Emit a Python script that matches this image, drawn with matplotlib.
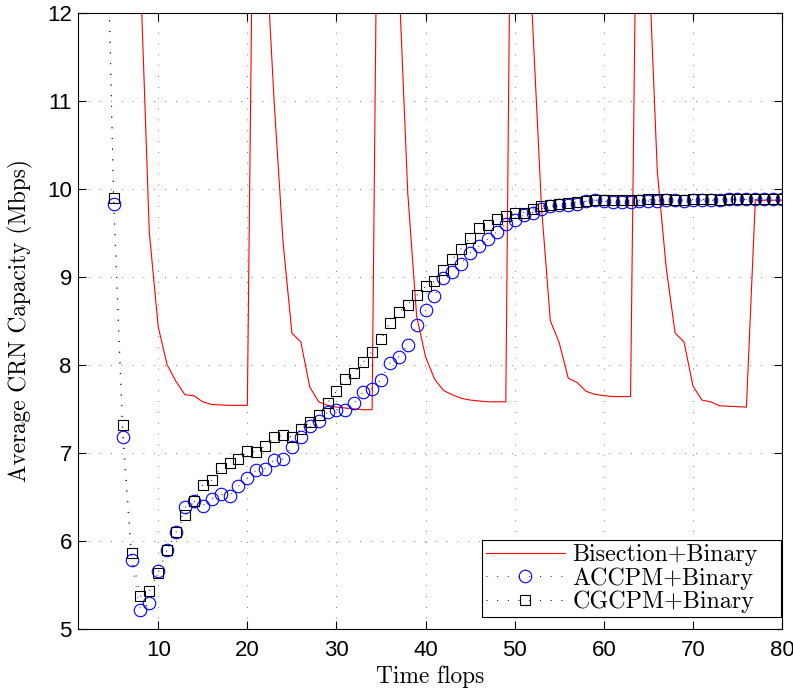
import matplotlib
matplotlib.use('Agg')
import matplotlib.pyplot as plt

# flops 1..80 ; valores por encima de 12 quedan fuera del eje (igual que el original)
flops = list(range(1, 81))

bisection = [40, 32, 27, 23, 20, 18, 16, 12.45, 9.5, 8.43,
             8.0, 7.81, 7.66, 7.65, 7.58, 7.55, 7.545, 7.54, 7.54, 7.54,
             17, 12.9, 11.0, 9.4, 8.36, 8.26, 7.75, 7.58, 7.54, 7.52,
             7.51, 7.5, 7.49, 7.49, 18, 14.5, 12.4, 9.95, 8.55, 8.09,
             7.84, 7.71, 7.66, 7.62, 7.6, 7.59, 7.58, 7.58, 7.58, 18.6,
             14.3, 11.9, 9.8, 8.5, 8.25, 7.85, 7.8, 7.7, 7.665, 7.65,
             7.64, 7.64, 7.64, 16.4, 12.7, 10.2, 9.1, 8.36, 8.26, 7.76,
             7.6, 7.58, 7.535, 7.53, 7.525, 7.52, 9.87, 9.87, 9.87, 9.87]

accpm = [26, 22, 18, 14.3, 9.83, 7.18, 5.78, 5.21, 5.29, 5.66,
         5.90, 6.10, 6.38, 6.45, 6.40, 6.48, 6.53, 6.51, 6.62, 6.71,
         6.80, 6.82, 6.92, 6.93, 7.07, 7.18, 7.30, 7.36, 7.46, 7.49,
         7.49, 7.57, 7.69, 7.73, 7.83, 8.02, 8.09, 8.23, 8.45, 8.62,
         8.78, 8.99, 9.05, 9.15, 9.27, 9.35, 9.43, 9.51, 9.60, 9.65,
         9.70, 9.73, 9.77, 9.80, 9.81, 9.82, 9.83, 9.86, 9.87, 9.86,
         9.85, 9.85, 9.85, 9.86, 9.86, 9.86, 9.87, 9.87, 9.86, 9.87,
         9.87, 9.87, 9.87, 9.88, 9.88, 9.88, 9.88, 9.88, 9.88, 9.88]

cgcpm = [26, 22, 18, 14.4, 9.89, 7.32, 5.86, 5.37, 5.43, 5.64,
         5.90, 6.10, 6.30, 6.45, 6.64, 6.69, 6.83, 6.88, 6.93, 7.02,
         7.01, 7.08, 7.18, 7.20, 7.18, 7.27, 7.35, 7.43, 7.57, 7.70,
         7.84, 7.91, 8.03, 8.15, 8.29, 8.48, 8.60, 8.68, 8.79, 8.89,
         8.95, 9.08, 9.20, 9.32, 9.44, 9.55, 9.59, 9.66, 9.69, 9.72,
         9.73, 9.77, 9.80, 9.82, 9.83, 9.84, 9.85, 9.86, 9.87, 9.87,
         9.87, 9.87, 9.87, 9.87, 9.88, 9.88, 9.88, 9.87, 9.87, 9.88,
         9.88, 9.88, 9.87, 9.88, 9.88, 9.88, 9.88, 9.88, 9.88, 9.88]

etiquetas = ['Bisection+Binary', 'ACCPM+Binary', 'CGCPM+Binary']
xticks = [10, 20, 30, 40, 50, 60, 70, 80]
yticks = [5, 6, 7, 8, 9, 10, 11, 12]

plt.rcParams['font.family'] = ['Liberation Sans', 'DejaVu Sans']

fig = plt.figure(figsize=(7.93, 6.93), dpi=100)
ax = fig.add_axes([0.0984, 0.0924, 0.8878, 0.8893])

ax.plot(flops, bisection, color='#ff0000', linewidth=0.8, label=etiquetas[0])
ax.plot(flops, accpm, color='#0000ff', linestyle=(0, (1, 10)), linewidth=0.7,
        marker='o', markersize=9, markerfacecolor='none', markeredgecolor='#0000ff',
        markeredgewidth=0.8, label=etiquetas[1])
ax.plot(flops, cgcpm, color='black', linestyle=(0, (1, 10)), linewidth=0.7,
        marker='s', markersize=7.8, markerfacecolor='none', markeredgecolor='black',
        markeredgewidth=0.8, label=etiquetas[2])

ax.set_xlim(1, 80)
ax.set_ylim(5, 12)
ax.set_xticks(xticks)
ax.set_yticks(yticks)
ax.grid(True, color='#555555', linestyle=(0, (1, 12)), linewidth=0.6)
ax.tick_params(direction='in', length=5.5, width=0.8, top=True, right=True,
               labelsize=16)
ax.tick_params(axis='x', pad=8)
ax.tick_params(axis='y', pad=4.5)
for s in ax.spines.values():
    s.set_linewidth(0.8)

ax.set_xlabel('Time flops', fontfamily='cmr10', fontsize=16.8, labelpad=3.5)
ax.set_ylabel('Average CRN Capacity (Mbps)', fontfamily='cmr10', fontsize=16.8)
ax.yaxis.set_label_coords(-0.064, 0.5)

leg = ax.legend(loc='lower left', bbox_to_anchor=(0.574, 0.0195, 0.4247, 0.1),
                mode='expand', borderaxespad=0,
                prop={'family': 'cmr10', 'size': 17.3}, fancybox=False,
                edgecolor='black', framealpha=1, handlelength=3.3,
                handletextpad=0.3, labelspacing=0.05, borderpad=0.15)
leg.get_frame().set_linewidth(0.8)

fig.savefig('out.png', dpi=100)
